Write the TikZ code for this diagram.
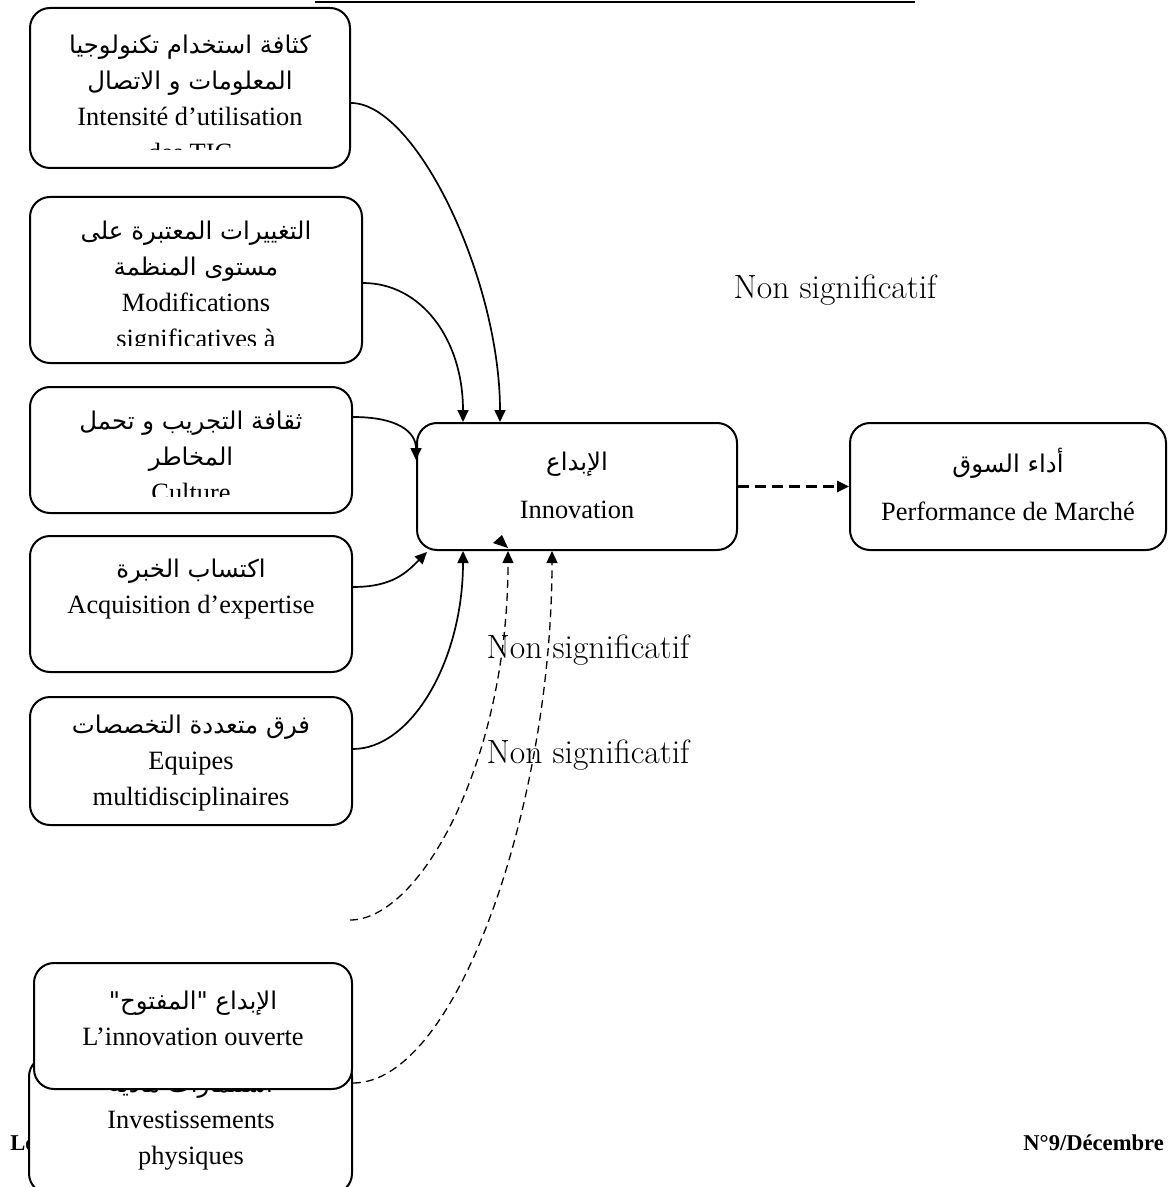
\documentclass[tikz,border=0pt]{standalone}
\usepackage{fontspec}
\setmainfont{Liberation Serif}
\newfontfamily\arabicfont[Script=Arabic]{DejaVu Sans}
\TeXXeTstate=1
\usetikzlibrary{calc,arrows.meta}
\newcommand{\artxt}[1]{{\arabicfont\fontsize{12.2}{18}\selectfont\beginR #1\endR}}
\tikzset{
  box/.style={draw, line width=1pt, rounded corners=10pt, fill=white, inner sep=0pt},
  txt/.style={align=center, font=\fontsize{13.2}{18}\selectfont},
  link/.style={line width=0.85pt, -{Triangle[length=6pt,width=5.5pt]}},
  weak/.style={line width=0.65pt, dash pattern=on 4pt off 2.5pt, -{Triangle[length=6pt,width=5.5pt]}},
  weakbold/.style={line width=1.3pt, dash pattern=on 5.5pt off 3pt, -{Triangle[length=6pt,width=5.5pt]}},
  nslab/.style={font=\fontfamily{lmr}\fontsize{16.8}{18}\selectfont},
  foot/.style={anchor=west, inner sep=0pt, font=\bfseries\fontsize{11.3}{14}\selectfont},
}

\begin{document}
\begin{tikzpicture}[x=0.5pt,y=-0.5pt]
  \useasboundingbox (0,0) rectangle (1168,1187);
  \clip (0,0) rectangle (1168,1187);

  % header rule
  \coordinate (ruleL) at (315,2);
  \coordinate (ruleR) at (915,2);
  \draw[line width=1.25pt] (ruleL) -- (ruleR);

  % footer
  \node[foot] (footL) at (10,1143) {Le};
  \node[foot] (footR) at (1023,1143) {N°9/Décembre};

  % boxes
  \node[box, minimum width=160pt, minimum height=80pt] (tic) at (190,88) {};
  \node[box, minimum width=166pt, minimum height=83pt] (modif) at (196,280) {};
  \node[box, minimum width=161pt, minimum height=63pt] (cult) at (191,450) {};
  \node[box, minimum width=161pt, minimum height=68pt] (acq) at (191,604) {};
  \node[box, minimum width=161pt, minimum height=64pt] (equip) at (191,761) {};
  \node[box, minimum width=160pt, minimum height=63.5pt] (inno) at (577,486.5) {};
  \node[box, minimum width=158pt, minimum height=63.5pt] (perf) at (1008,486.5) {};

  % box texts, cut off at the lower margin as in the source
  \begin{scope}
    \clip (tic.north west) rectangle ($(tic.east)+(0,62)$);
    \node[txt] (tictxt) at (190,98) {\artxt{كثافة استخدام تكنولوجيا}\\ \artxt{المعلومات و الاتصال}\\ Intensité d’utilisation\\ des TIC};
  \end{scope}
  \begin{scope}
    \clip (modif.north west) rectangle ($(modif.east)+(0,65)$);
    \node[txt] (modiftxt) at (196,287) {\artxt{التغييرات المعتبرة على}\\ \artxt{مستوى المنظمة}\\ Modifications\\ significatives à};
  \end{scope}
  \begin{scope}
    \clip (cult.north west) rectangle ($(cult.east)+(0,46)$);
    \node[txt] (culttxt) at (191,456) {\artxt{ثقافة التجريب و تحمل}\\ \artxt{المخاطر}\\ Culture};
  \end{scope}
  \node[txt] (acqtxt) at (191,589) {\artxt{اكتساب الخبرة}\\ Acquisition d’expertise};
  \node[txt] (equiptxt) at (191,763) {\artxt{فرق متعددة التخصصات}\\ Equipes\\ multidisciplinaires};
  \node[txt] (innotxt) at (577,485) {\artxt{الإبداع}\\[6pt] Innovation};
  \node[txt] (perftxt) at (1008,484) {\artxt{أداء السوق}\\[6pt] Performance de Marché};

  % the two overlapping boxes at the bottom
  \node[box, minimum width=161.5pt, minimum height=68.5pt] (invest) at (190.5,1125) {};
  \node[txt] (investtxt) at (191,1122) {\artxt{استثمارات مادية}\\ Investissements\\ physiques};
  \node[box, minimum width=159pt, minimum height=63pt] (open) at (193,1026) {};
  \node[txt] (opentxt) at (193,1018) {\artxt{الإبداع "المفتوح"}\\ L’innovation ouverte};

  % labels
  \node[nslab] (ns1) at (835,290) {Non significatif};
  \node[nslab] (ns2) at (588,650) {Non significatif};
  \node[nslab] (ns3) at (588,755) {Non significatif};

  % solid links into innovation
  \draw[link] ($(tic.east)+(0,15)$) .. controls +(65,0) and +(0,-143) .. ($(inno.north)+(-77,0)$);
  \draw[link] ($(modif.east)+(0,3)$) .. controls +(58,0) and +(0,-83) .. ($(inno.north)+(-114,0)$);
  \draw[link] ($(cult.east)+(0,-33)$) .. controls +(45,0) and +(0,-28) .. ($(inno.west)+(0,-26.5)$);
  \draw[link] ($(acq.east)+(0,-17)$) .. controls +(40,0) and +(-20,20) .. ($(inno.south west)+(11,1)$);
  \draw[link] ($(equip.east)+(0,-12)$) .. controls +(58,0) and +(0,110) .. ($(inno.south)+(-114,0)$);

  % dashed links
  \coordinate (loose) at (350,920);
  \draw[weak] (loose) .. controls +(70,0) and +(0,210) .. ($(inno.south)+(-69,0)$);
  \draw[weak] ($(invest.east)+(0,-42)$) .. controls +(105,0) and +(0,250) .. ($(inno.south)+(-25,0)$);
  \draw[weakbold] (inno.east) -- (perf.west);

  % stray arrow tip
  \fill (493,543) -- (502,535) -- (508,548) -- cycle;
\end{tikzpicture}
\end{document}
